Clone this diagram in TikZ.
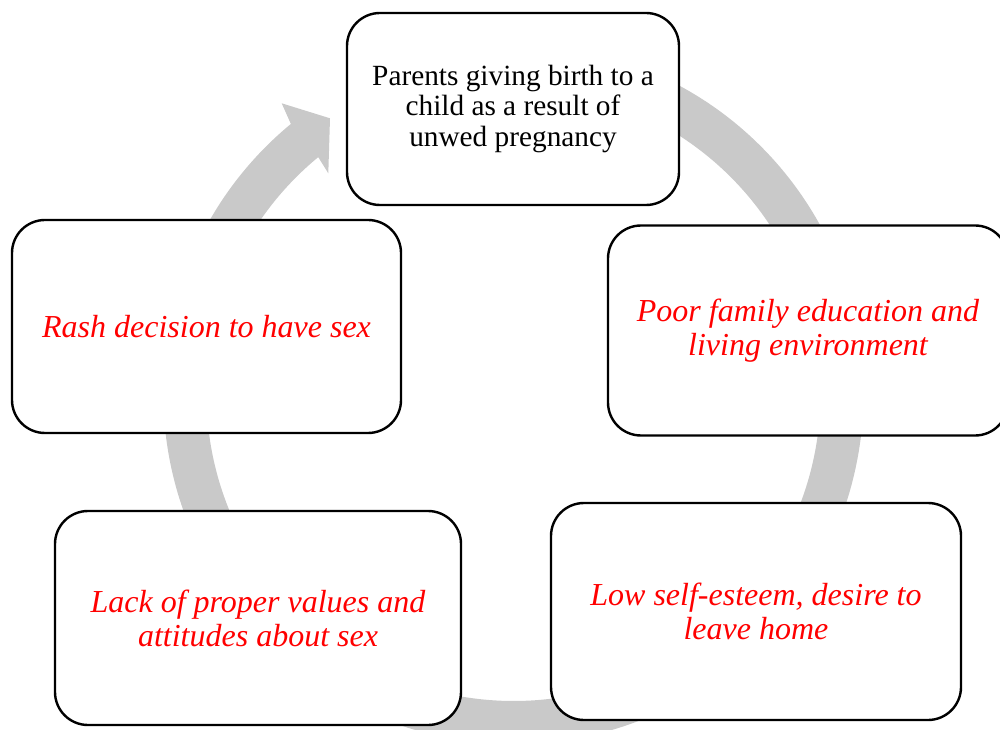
\documentclass[tikz,border=0pt]{standalone}
\usepackage{fontspec}
\setmainfont{Liberation Serif}
\usetikzlibrary{calc}
\definecolor{ringgray}{RGB}{201,201,201}
\begin{document}
\begin{tikzpicture}[x=1pt,y=1pt,
  cyclebox/.style={draw=black, line width=2.4pt, fill=white, rounded corners=33pt, inner sep=0pt, align=center},
  redtxt/.style={text=red, font=\fontsize{32}{34}\selectfont\itshape},
  blacktxt/.style={text=black, font=\fontsize{29.3}{30.7}\selectfont}]
\useasboundingbox (0,0) rectangle (1000,729);
\clip (0,0) rectangle (1000,729);
\coordinate (c) at (513.5,335);
\fill[ringgray] ($(c)+(80:350)$) arc[start angle=80, end angle=-230.5, radius=350]
  -- (281.7,625.7) -- (330,610.7) -- (328.3,555.7) -- ($(c)+(129.5:307)$)
  arc[start angle=-230.5, end angle=80, radius=307] -- cycle;
\node[cyclebox, blacktxt, minimum width=332, minimum height=192] (top) at (513,620)
  {Parents giving birth to a\\child as a result of\\unwed pregnancy};
\node[cyclebox, redtxt, minimum width=400, minimum height=210] (right) at (808,398.5)
  {Poor family education and\\living environment};
\node[cyclebox, redtxt, minimum width=389, minimum height=213] (left) at (206.5,402.5)
  {Rash decision to have sex};
\node[cyclebox, redtxt, minimum width=406, minimum height=214] (botleft) at (258,111)
  {Lack of proper values and\\attitudes about sex};
\node[cyclebox, redtxt, minimum width=410, minimum height=217] (botright) at (756,117.5)
  {Low self-esteem, desire to\\leave home};
\end{tikzpicture}
\end{document}
